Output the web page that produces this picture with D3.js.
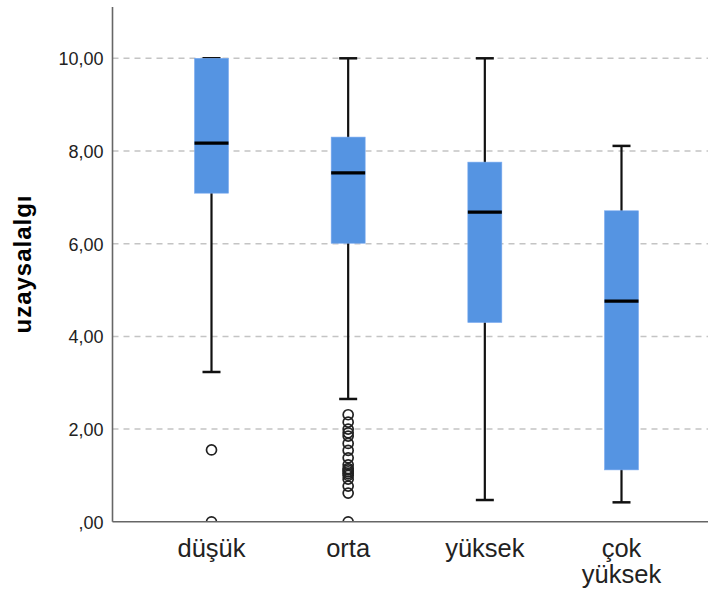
<!DOCTYPE html>
<html>
<head>
<meta charset="utf-8">
<script src="https://cdn.jsdelivr.net/npm/d3@7"></script>
<style>
  body { margin: 0; background: #fff; }
  text { font-family: "Liberation Sans", Arial, sans-serif; }
</style>
</head>
<body>
<div id="chart"></div>
<script>
// box plot data
const categories = ["düşük", "orta", "yüksek", "çok yüksek"]
const whiskerLow = [3.23, 2.65, 0.47, 0.42]
const q1 = [7.09, 6.01, 4.30, 1.12]
const median = [8.17, 7.53, 6.68, 4.76]
const q3 = [10.0, 8.30, 7.76, 6.71]
const whiskerHigh = [10.0, 10.0, 10.0, 8.11]
const outliers = [
  [1.55, 0],
  [2.31, 2.15, 2.0, 1.92, 1.85, 1.69, 1.54, 1.38, 1.23, 1.15, 1.12, 1.08, 1.04, 1.0, 0.92, 0.77, 0.62, 0],
  [],
  []
]
const yTicks = [0, 2, 4, 6, 8, 10]
const yTitle = "uzaysalalgı"

window.onload = () => {
  const width = 708
  const height = 589
  const left = 112.5, right = 708, top = 7, bottom = 521.8

  const svg = d3.select("#chart").append("svg")
    .attr("width", width)
    .attr("height", height)

  const y = d3.scaleLinear().domain([0, 10]).range([bottom, 58.3])
  const x = d3.scalePoint().domain(categories).range([211.5, 621.5])

  // grid
  svg.append("g").selectAll("line").data(yTicks.filter(d => d > 0)).enter().append("line")
    .attr("x1", left).attr("x2", right)
    .attr("y1", d => y(d)).attr("y2", d => y(d))
    .attr("stroke", "#c4c4c4")
    .attr("stroke-width", 1.5)
    .attr("stroke-dasharray", "6,5")

  svg.append("clipPath").attr("id", "plotclip")
    .append("rect").attr("x", left).attr("y", 0).attr("width", right - left).attr("height", bottom)

  const plot = svg.append("g").attr("clip-path", "url(#plotclip)")

  const rows = categories.map((c, i) => ({
    c, lo: whiskerLow[i], q1: q1[i], med: median[i], q3: q3[i], hi: whiskerHigh[i], out: outliers[i]
  }))
  const boxW = 34, capW = 18

  const g = plot.selectAll(".box").data(rows).enter().append("g")
    .attr("transform", d => `translate(${x(d.c)},0)`)

  // whiskers
  g.append("line")
    .attr("x1", 0).attr("x2", 0)
    .attr("y1", d => y(d.hi)).attr("y2", d => y(d.lo))
    .attr("stroke", "#111").attr("stroke-width", 2.2)
  g.selectAll(".cap").data(d => [d.lo, d.hi]).enter().append("line")
    .attr("x1", -capW / 2).attr("x2", capW / 2)
    .attr("y1", v => y(v)).attr("y2", v => y(v))
    .attr("stroke", "#111").attr("stroke-width", 2.5)

  // boxes
  g.append("rect")
    .attr("x", -boxW / 2).attr("width", boxW)
    .attr("y", d => y(d.q3)).attr("height", d => y(d.q1) - y(d.q3))
    .attr("fill", "#5594e2")
    .attr("stroke", "#7aaaf0").attr("stroke-width", 0.6)
  g.append("line")
    .attr("x1", -boxW / 2).attr("x2", boxW / 2)
    .attr("y1", d => y(d.med)).attr("y2", d => y(d.med))
    .attr("stroke", "#000").attr("stroke-width", 3.2)

  // outliers
  g.selectAll("circle").data(d => d.out).enter().append("circle")
    .attr("cx", 0).attr("cy", v => y(v)).attr("r", 5)
    .attr("fill", "none").attr("stroke", "#222").attr("stroke-width", 1.7)

  // axes
  const yAxis = svg.append("g")
    .attr("transform", `translate(${left},0)`)
    .call(d3.axisLeft(y).tickValues(yTicks).tickSize(0).tickPadding(9)
      .tickFormat(v => v === 0 ? ",00" : v.toFixed(2).replace(".", ",")))
  yAxis.select(".domain").remove()
  yAxis.selectAll("text")
    .style("font-size", "18px").attr("fill", "#222")
    .attr("dy", "0.36em")

  svg.append("line")
    .attr("x1", left).attr("x2", left).attr("y1", top).attr("y2", bottom)
    .attr("stroke", "#666").attr("stroke-width", 1.6)
  svg.append("line")
    .attr("x1", left).attr("x2", right).attr("y1", bottom).attr("y2", bottom)
    .attr("stroke", "#666").attr("stroke-width", 1.6)

  // category labels
  const labels = svg.append("g").selectAll("text").data(categories).enter().append("text")
    .attr("x", d => x(d))
    .attr("y", 556.7)
    .attr("text-anchor", "middle")
    .attr("fill", "#222")
    .style("font-size", "25.5px")
  labels.each(function (d) {
    const words = d.split(" ")
    d3.select(this).selectAll("tspan").data(words).enter().append("tspan")
      .attr("x", x(d))
      .attr("dy", (w, i) => i === 0 ? 0 : 26)
      .text(w => w)
  })

  // y title
  svg.append("text")
    .attr("transform", "translate(31,264) rotate(-90)")
    .attr("text-anchor", "middle")
    .attr("fill", "#000")
    .style("font-size", "24px")
    .style("font-weight", "bold")
    .style("letter-spacing", "1px")
    .text(yTitle)
}
</script>
</body>
</html>
